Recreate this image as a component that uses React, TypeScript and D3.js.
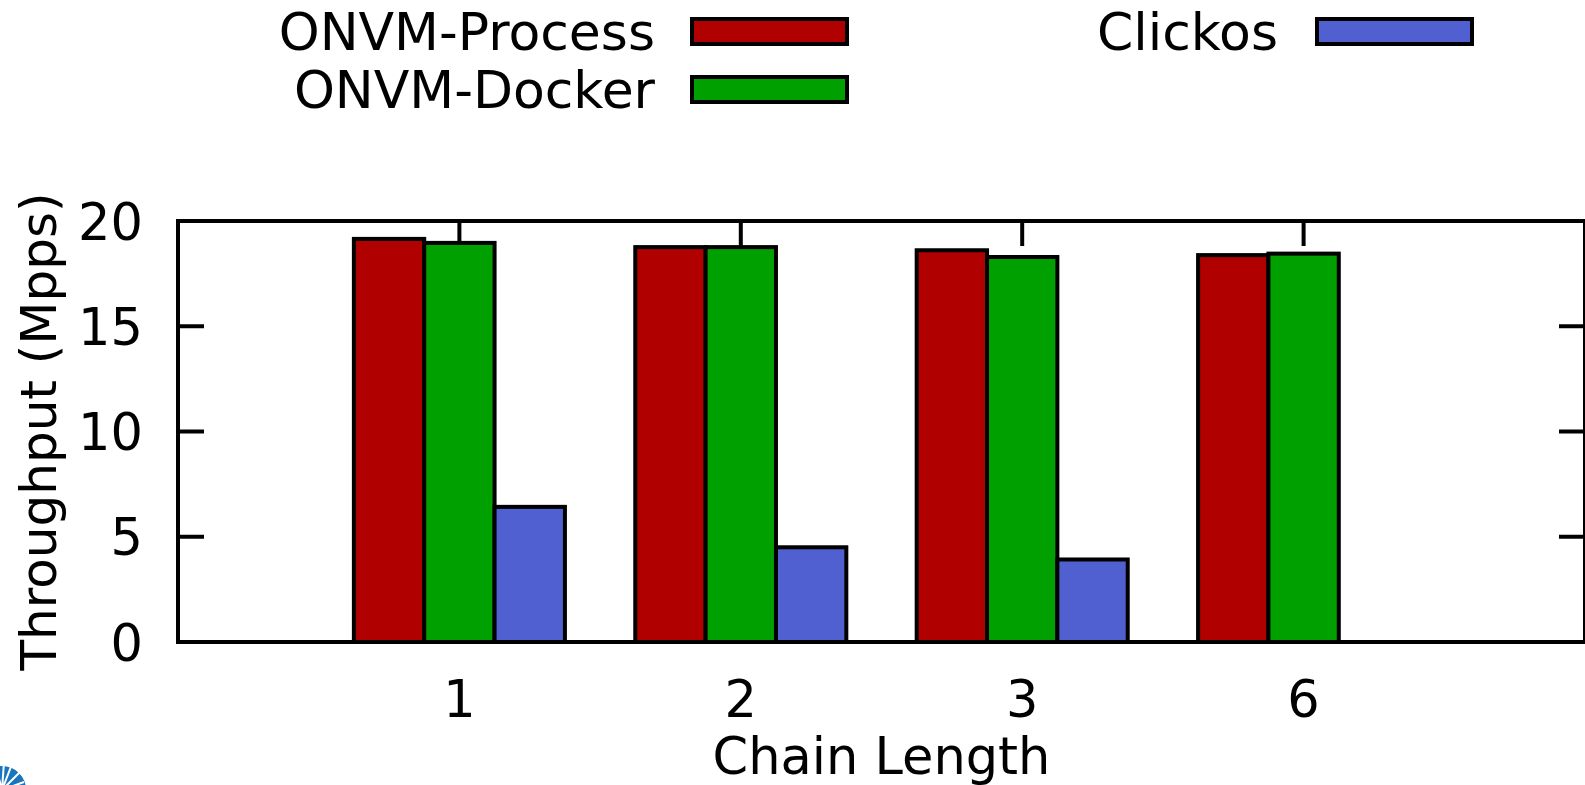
import React from "react";
import * as d3 from "d3";

const categories = ["1", "2", "3", "6"];
const seriesNames = ["ONVM-Process", "ONVM-Docker", "Clickos"];
const processValues = [19.15, 18.76, 18.61, 18.38];
const dockerValues = [18.96, 18.76, 18.29, 18.45];
const clickosValues: (number | null)[] = [6.42, 4.5, 3.92, null];
const yTicks = [0, 5, 10, 15, 20];
const colors = ["#b00000", "#00a000", "#5060d0"];

const W = 1585;
const H = 785;
const FONT = "'DejaVu Sans', sans-serif";
const FS = 51;

export default function App() {
  const x = d3.scaleLinear().domain([-1, categories.length]).range([178, 1585]);
  const y = d3.scaleLinear().domain([0, 20]).range([642, 221]);
  const series = [processValues, dockerValues, clickosValues];
  const barW = 0.25;
  const sw = 4;

  const legend = [
    { name: seriesNames[0], color: colors[0], tx: 655, bx: 692, cy: 31.5 },
    { name: seriesNames[1], color: colors[1], tx: 655, bx: 692, cy: 89.5 },
    { name: seriesNames[2], color: colors[2], tx: 1278, bx: 1317, cy: 31.5 },
  ];

  const [x0, x1] = x.range();
  const [yb, yt] = y.range();

  return (
    <svg
      width={W}
      height={H}
      style={{ position: "absolute", left: 0, top: 0, background: "#fff" }}
      fontFamily={FONT}
    >
      <rect x={0} y={0} width={W} height={H} fill="#fff" />
      {/* legend */}
      {legend.map((l) => (
        <g key={l.name}>
          <text x={l.tx} y={l.cy + 18.8} fontSize={52} textAnchor="end" fill="#000">
            {l.name}
          </text>
          <rect
            x={l.bx}
            y={l.cy - 12.5}
            width={155}
            height={25}
            fill={l.color}
            stroke="#000"
            strokeWidth={sw}
          />
        </g>
      ))}

      {/* y ticks */}
      {yTicks.map((t) => (
        <g key={"yt" + t}>
          <line x1={x0} x2={x0 + 26} y1={y(t)} y2={y(t)} stroke="#000" strokeWidth={sw} />
          <line x1={x1} x2={x1 - 26} y1={y(t)} y2={y(t)} stroke="#000" strokeWidth={sw} />
          <text
            x={143}
            y={y(t) + 18.5}
            fontSize={FS}
            textAnchor="end"
            fill="#000"
          >
            {t}
          </text>
        </g>
      ))}

      {/* x ticks */}
      {categories.map((c, i) => (
        <g key={"xt" + c}>
          <line x1={x(i)} x2={x(i)} y1={yt} y2={yt + 25} stroke="#000" strokeWidth={sw} />
          <line x1={x(i)} x2={x(i)} y1={yb} y2={yb - 25} stroke="#000" strokeWidth={sw} />
          <text x={x(i)} y={717} fontSize={FS} textAnchor="middle" fill="#000">
            {c}
          </text>
        </g>
      ))}

      {/* bars */}
      {series.map((vals, j) =>
        vals.map((v, i) => {
          if (v === null || v === undefined) return null;
          const off = (j - 1) * barW;
          const left = x(i + off - barW / 2);
          const right = x(i + off + barW / 2);
          return (
            <rect
              key={`b${j}-${i}`}
              x={left}
              y={y(v)}
              width={right - left}
              height={y(0) - y(v)}
              fill={colors[j]}
              stroke="#000"
              strokeWidth={sw}
            />
          );
        })
      )}

      {/* frame */}
      <rect
        x={x0}
        y={yt}
        width={x1 - x0}
        height={yb - yt}
        fill="none"
        stroke="#000"
        strokeWidth={sw}
      />

      {/* axis titles */}
      <text
        transform={`translate(56, ${(yt + yb) / 2}) rotate(-90)`}
        fontSize={50}
        textAnchor="middle"
        fill="#000"
      >
        Throughput (Mpps)
      </text>
      <text x={(x0 + x1) / 2} y={774} fontSize={FS} textAnchor="middle" fill="#000">
        Chain Length
      </text>

      {/* partial logo in the bottom-left corner */}
      <g>
        <circle cx={2} cy={790} r={24} fill="#1a75bf" />
        <path
          d="M2 790 L-6 760 M2 790 L12 764 M2 790 L20 772 M2 790 L24 782 M2 790 L4 762"
          stroke="#fff"
          strokeWidth={2}
        />
      </g>
    </svg>
  );
}
